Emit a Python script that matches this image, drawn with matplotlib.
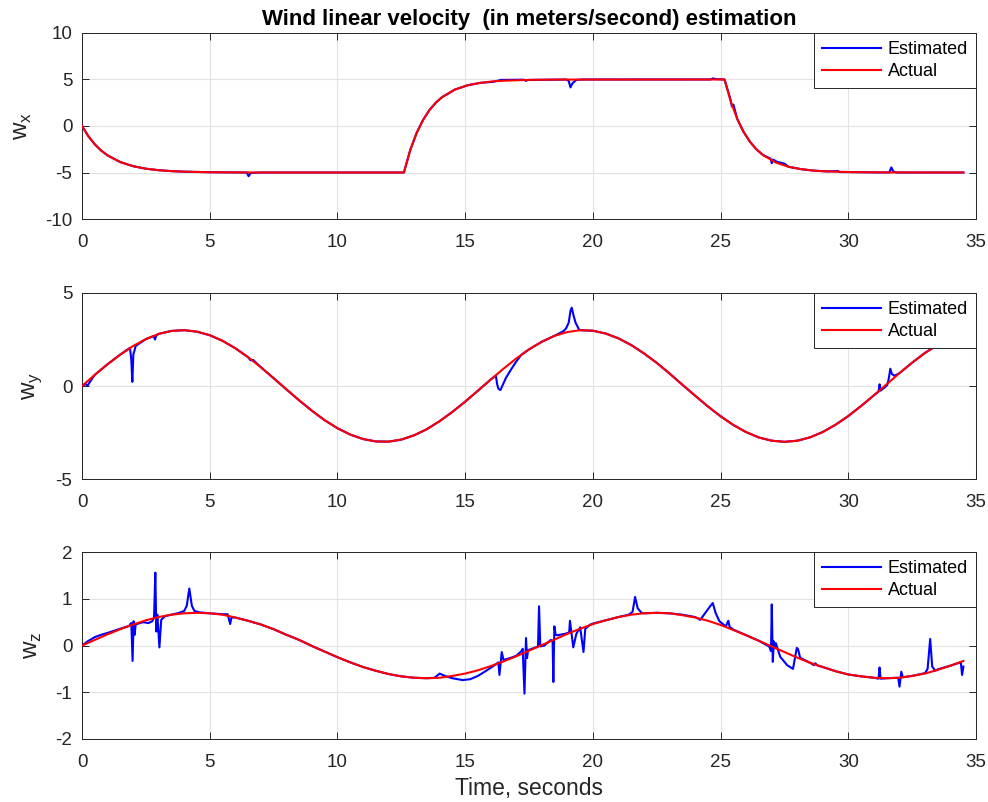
import matplotlib
matplotlib.use("Agg")
import matplotlib.pyplot as plt

plt.rcParams["font.family"] = ["Liberation Sans", "DejaVu Sans"]
plt.rcParams["mathtext.fontset"] = "custom"
plt.rcParams["mathtext.rm"] = "Liberation Sans"
plt.rcParams["axes.unicode_minus"] = False

# ---- wind x (actual / estimated) ----
wx_t = [0, 0.25, 0.5, 0.75, 1.0, 1.5, 2.0, 2.5, 3.0, 3.5, 4.0, 5.0, 6.0, 7.0, 12.6,
        12.85, 13.1, 13.35, 13.6, 13.85, 14.1, 14.6, 15.1, 15.6, 16.1, 16.6, 17.6, 18.6, 25.15,
        25.4, 25.65, 25.9, 26.15, 26.4, 26.65, 27.15, 27.65, 28.15, 28.65, 29.15, 30.15, 31.15, 34.5]
wx_act = [0, -1.11, -1.97, -2.64, -3.16, -3.88, -4.32, -4.59, -4.75, -4.85, -4.91, -4.97, -4.99, -5.0, -5.0,
          -2.57, -0.74, 0.65, 1.71, 2.51, 3.11, 3.92, 4.38, 4.64, 4.80, 4.88, 4.96, 4.99, 5.0,
          2.57, 0.74, -0.65, -1.71, -2.51, -3.11, -3.92, -4.38, -4.64, -4.80, -4.88, -4.96, -4.99, -5.0]
wx_est_t = [0, 0.25, 0.5, 0.75, 1.0, 1.5, 2.0, 2.5, 3.0, 3.5, 4.0, 5.0, 6.0, 6.45, 6.52, 6.6, 7.0, 12.6,
            12.85, 13.1, 13.35, 13.6, 13.85, 14.1, 14.6, 15.1, 15.6, 16.1, 16.4, 17.3, 17.38, 17.45, 18.6,
            18.95, 19.05, 19.12, 19.2, 19.35, 19.6, 24.6, 24.7, 24.8, 25.15, 25.38, 25.44, 25.5, 25.65,
            25.9, 26.15, 26.4, 26.65, 26.95, 27.0, 27.05, 27.2, 27.5, 27.65, 28.15, 28.65, 29.15, 29.6,
            29.65, 30.15, 31.15, 31.6, 31.68, 31.76, 31.9, 34.5]
wx_est = [0, -1.11, -1.97, -2.64, -3.16, -3.88, -4.32, -4.59, -4.75, -4.85, -4.91, -4.97, -4.99, -5.0, -5.4, -5.05, -5.0, -5.0,
          -2.57, -0.74, 0.65, 1.71, 2.51, 3.11, 3.92, 4.38, 4.64, 4.75, 4.95, 4.98, 4.85, 4.95, 4.98,
          5.0, 4.85, 4.15, 4.6, 4.95, 5.0, 5.0, 5.12, 5.05, 5.0, 2.9, 2.1, 2.3, 0.74,
          -0.65, -1.71, -2.51, -3.11, -3.5, -4.0, -3.6, -3.85, -4.05, -4.38, -4.64, -4.80, -4.88, -4.85,
          -4.95, -4.96, -4.99, -5.0, -4.45, -4.9, -5.0, -5.0]

# ---- wind y ----
wy_t = [0, 0.5, 1.0, 1.5, 2.0, 2.5, 3.0, 3.5, 4.0, 4.5, 5.0, 5.5, 6.0, 6.5, 7.0, 7.5, 8.0, 8.5, 9.0, 9.5,
        10.0, 10.5, 11.0, 11.5, 12.0, 12.5, 13.0, 13.5, 14.0, 14.5, 15.0, 15.5, 16.0, 16.5, 17.0, 17.5,
        18.0, 18.5, 19.0, 19.5, 20.0, 20.5, 21.0, 21.5, 22.0, 22.5, 23.0, 23.5, 24.0, 24.5, 25.0, 25.5,
        26.0, 26.5, 27.0, 27.5, 28.0, 28.5, 29.0, 29.5, 30.0, 30.5, 31.0, 31.5, 32.0, 32.5, 33.0, 33.5,
        34.0, 34.5]
wy_act = [0, 0.60, 1.17, 1.69, 2.15, 2.52, 2.80, 2.96, 3.00, 2.92, 2.73, 2.43, 2.03, 1.55, 1.01, 0.42, -0.18,
          -0.77, -1.33, -1.84, -2.27, -2.61, -2.85, -2.98, -2.99, -2.88, -2.65, -2.32, -1.89, -1.39, -0.84,
          -0.25, 0.35, 0.93, 1.48, 1.97, 2.38, 2.70, 2.90, 3.00, 2.97, 2.82, 2.56, 2.20, 1.75, 1.24, 0.67,
          0.07, -0.52, -1.10, -1.63, -2.10, -2.48, -2.77, -2.94, -3.00, -2.94, -2.76, -2.47, -2.08, -1.61,
          -1.07, -0.50, 0.10, 0.69, 1.26, 1.78, 2.22, 2.58, 2.83]
wy_est_t = [0, 0.15, 0.22, 0.3, 0.5, 1.0, 1.5, 1.88, 1.93, 1.97, 2.01, 2.05, 2.1, 2.5, 2.8, 2.86, 2.9, 3.0,
            3.5, 4.0, 4.5, 5.0, 5.5, 6.0, 6.5, 6.6, 6.7, 7.0, 7.5, 8.0, 8.5, 9.0, 9.5, 10.0, 10.5, 11.0,
            11.5, 12.0, 12.5, 13.0, 13.5, 14.0, 14.5, 15.0, 15.5, 16.0, 16.2, 16.25, 16.3, 16.38, 16.45,
            16.6, 16.8, 17.0, 17.2, 17.5, 18.0, 18.5, 18.85, 18.95, 19.05, 19.12, 19.17, 19.23, 19.32,
            19.45, 19.5, 20.0, 20.5, 21.0, 21.5, 22.0, 22.5, 23.0, 23.5, 24.0, 24.5, 25.0, 25.5, 26.0,
            26.5, 27.0, 27.5, 28.0, 28.5, 29.0, 29.5, 30.0, 30.5, 31.0, 31.18, 31.22, 31.26, 31.4, 31.52,
            31.58, 31.64, 31.7, 31.8, 32.0, 32.5, 33.0, 33.5, 34.0, 34.5]
wy_est = [0, 0.10, 0.02, 0.20, 0.60, 1.17, 1.69, 2.05, 1.40, 0.22, 1.70, 1.88, 2.15, 2.52, 2.68, 2.50, 2.70, 2.80,
          2.96, 3.00, 2.92, 2.73, 2.43, 2.03, 1.55, 1.38, 1.40, 1.01, 0.42, -0.18, -0.77, -1.33, -1.84, -2.27,
          -2.61, -2.85, -2.98, -2.99, -2.88, -2.65, -2.32, -1.89, -1.39, -0.84, -0.25, 0.35, 0.55, 0.10, -0.15,
          -0.22, 0.00, 0.45, 0.90, 1.32, 1.68, 1.97, 2.38, 2.70, 2.95, 3.10, 3.40, 4.03, 4.21, 3.85, 3.40,
          3.05, 3.00, 2.97, 2.82, 2.56, 2.20, 1.75, 1.24, 0.67, 0.07, -0.52, -1.10, -1.63, -2.10, -2.48,
          -2.77, -2.94, -3.00, -2.94, -2.76, -2.47, -2.08, -1.61, -1.07, -0.50, -0.30, 0.09, -0.25, -0.10, 0.05,
          0.40, 0.93, 0.65, 0.55, 0.69, 1.26, 1.78, 2.22, 2.58, 2.83]

# ---- wind z ----
wz_t = wy_t
wz_act = [0, 0.12, 0.24, 0.35, 0.45, 0.54, 0.61, 0.66, 0.69, 0.70, 0.69, 0.66, 0.60, 0.53, 0.45, 0.35, 0.23,
          0.12, -0.01, -0.13, -0.25, -0.36, -0.46, -0.54, -0.61, -0.66, -0.69, -0.70, -0.69, -0.65, -0.60,
          -0.53, -0.44, -0.34, -0.23, -0.11, 0.01, 0.13, 0.25, 0.36, 0.46, 0.54, 0.61, 0.66, 0.69, 0.70,
          0.69, 0.65, 0.60, 0.53, 0.44, 0.33, 0.22, 0.10, -0.02, -0.14, -0.26, -0.37, -0.46, -0.55, -0.62,
          -0.66, -0.69, -0.70, -0.69, -0.65, -0.60, -0.52, -0.43, -0.33]
wz_est_t = [0, 0.25, 0.5, 0.75, 1.0, 1.5, 1.85, 1.9, 1.93, 1.98, 2.02, 2.06, 2.1, 2.2, 2.4, 2.6, 2.75, 2.82,
            2.87, 2.91, 2.95, 3.03, 3.1, 3.25, 3.5, 3.8, 4.0, 4.1, 4.2, 4.3, 4.4, 4.6, 5.0, 5.5, 5.7, 5.8,
            5.85, 6.0, 6.5, 7.0, 7.5, 8.0, 8.5, 9.0, 9.5, 10.0, 10.5, 11.0, 11.5, 12.0, 12.5, 13.0, 13.5,
            13.8, 14.0, 14.2, 14.5, 14.9, 15.2, 15.5, 15.85, 16.1, 16.3, 16.34, 16.43, 16.5, 16.8, 17.0,
            17.2, 17.25, 17.32, 17.38, 17.42, 17.46, 17.7, 17.85, 17.89, 17.94, 18.1, 18.35, 18.42, 18.45,
            18.49, 18.54, 18.6, 18.9, 19.07, 19.1, 19.23, 19.35, 19.5, 19.63, 19.7, 19.9, 20.0, 20.5, 21.0,
            21.4, 21.55, 21.65, 21.75, 21.9, 22.0, 22.5, 23.0, 23.5, 24.0, 24.2, 24.4, 24.6, 24.69, 24.8,
            24.95, 25.2, 25.3, 25.35, 25.5, 26.0, 26.5, 26.9, 26.97, 27.0, 27.04, 27.08, 27.12, 27.16,
            27.33, 27.6, 27.83, 27.98, 28.03, 28.11, 28.5, 28.65, 28.7, 28.8, 29.0, 29.5, 30.0, 30.5,
            31.0, 31.18, 31.22, 31.26, 31.5, 31.95, 32.0, 32.07, 32.13, 32.5, 33.0, 33.1, 33.2, 33.28,
            33.4, 33.5, 34.0, 34.4, 34.45, 34.5]
wz_est = [0, 0.10, 0.18, 0.23, 0.27, 0.36, 0.42, 0.47, 0.48, -0.33, 0.52, 0.23, 0.45, 0.47, 0.50, 0.48, 0.52, 0.60,
          1.56, 0.30, 0.66, -0.04, 0.55, 0.63, 0.66, 0.70, 0.74, 0.85, 1.22, 0.85, 0.74, 0.71, 0.69, 0.67, 0.67, 0.46,
          0.60, 0.60, 0.53, 0.45, 0.35, 0.23, 0.12, -0.01, -0.13, -0.25, -0.36, -0.46, -0.54, -0.61, -0.66, -0.69, -0.70,
          -0.69, -0.60, -0.65, -0.70, -0.74, -0.72, -0.65, -0.53, -0.44, -0.36, -0.63, -0.14, -0.31, -0.26, -0.22,
          -0.12, -0.07, -1.03, 0.16, -0.27, -0.10, -0.05, -0.02, 0.84, -0.02, 0.00, 0.12, 0.10, -0.78,
          0.41, 0.23, 0.22, 0.25, 0.28, 0.53, -0.04, 0.25, 0.39, -0.14, 0.36, 0.45, 0.47, 0.54, 0.61,
          0.66, 0.72, 1.04, 0.80, 0.70, 0.69, 0.70, 0.69, 0.66, 0.61, 0.55, 0.70, 0.85, 0.91, 0.70,
          0.52, 0.41, 0.53, 0.40, 0.34, 0.22, 0.10, -0.02, -0.12, 0.88, -0.35, 0.09, -0.06, 0.05,
          -0.24, -0.42, -0.50, -0.05, -0.08, -0.26, -0.37, -0.42, -0.38, -0.43, -0.46, -0.55, -0.62, -0.66,
          -0.69, -0.71, -0.47, -0.71, -0.70, -0.69, -0.88, -0.56, -0.68, -0.65, -0.59, -0.50, 0.14, -0.45,
          -0.54, -0.51, -0.43, -0.36, -0.63, -0.45]

panels = [
    (wx_est_t, wx_est, wx_t, wx_act, r"w$_\mathrm{x}$", (-10, 10), [-10, -5, 0, 5, 10]),
    (wy_est_t, wy_est, wy_t, wy_act, r"w$_\mathrm{y}$", (-5, 5), [-5, 0, 5]),
    (wz_est_t, wz_est, wz_t, wz_act, r"w$_\mathrm{z}$", (-2, 2), [-2, -1, 0, 1, 2]),
]
positions = [
    [0.083, 0.7269, 0.905, 0.232],
    [0.083, 0.4027, 0.905, 0.232],
    [0.083, 0.0786, 0.905, 0.233],
]

fig = plt.figure(figsize=(9.88, 8.02), dpi=100)
fig.patch.set_facecolor("white")
ink = "#262626"

for i, ((et, ev, at, av, ylab, ylim, yticks), pos) in enumerate(zip(panels, positions)):
    ax = fig.add_axes(pos)
    ax.plot(et, ev, color="#0000ff", lw=1.5, label="Estimated", zorder=3)
    ax.plot(at, av, color="#ff0000", lw=1.5, label="Actual", zorder=4)
    ax.set_xlim(0, 35)
    ax.set_ylim(*ylim)
    ax.set_xticks(range(0, 36, 5))
    ax.set_yticks(yticks)
    ax.grid(True, color="#e3e3e3", lw=0.8)
    ax.set_axisbelow(True)
    ax.tick_params(direction="in", top=True, right=True, length=5, width=0.7,
                   colors=ink, labelsize=13.5)
    ax.tick_params(axis="x", pad=11)
    ax.tick_params(axis="y", pad=7)
    for spine in ax.spines.values():
        spine.set_color(ink)
        spine.set_linewidth(0.7)
    ax.set_ylabel(ylab, fontsize=17.5, color=ink, labelpad=8)
    leg = ax.legend(loc="upper right", fontsize=13, fancybox=False, framealpha=1,
                    edgecolor=ink, borderaxespad=0, handlelength=3.3,
                    borderpad=0.45, labelspacing=0.28, handletextpad=0.35)
    leg.get_frame().set_linewidth(0.7)
    if i == 0:
        ax.set_title("Wind linear velocity  (in meters/second) estimation",
                     fontsize=16, fontweight="bold", color="black", pad=6)
    if i == 2:
        ax.set_xlabel("Time, seconds", fontsize=16.5, color=ink, labelpad=4)

fig.savefig("out.png", dpi=100, facecolor="white")
